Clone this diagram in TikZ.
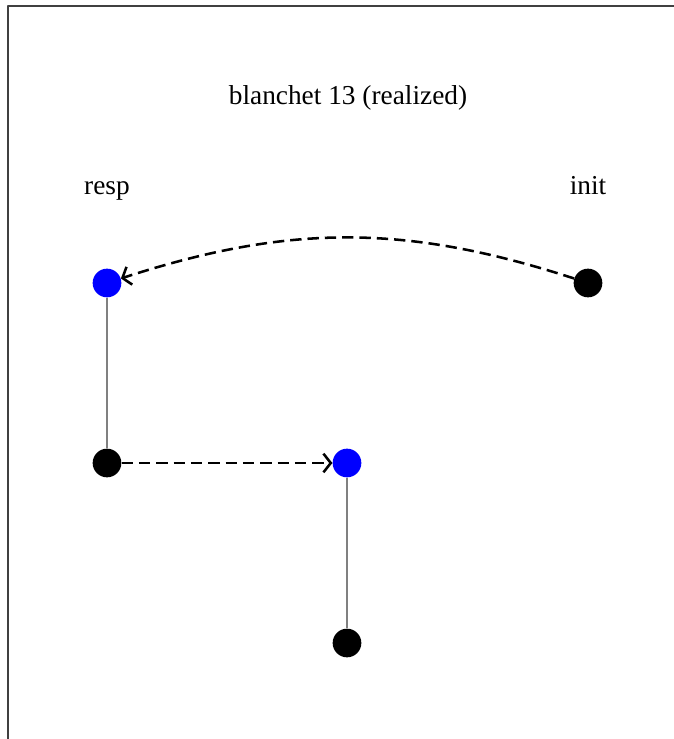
\documentclass[tikz,border=0pt]{standalone}
\usepackage{fontspec}
\setmainfont{Liberation Serif}
\usetikzlibrary{arrows.meta}
\tikzset{
	dotb/.style={circle, fill=blue, inner sep=0pt, minimum size=21.5pt},
	dotk/.style={circle, fill=black, inner sep=0pt, minimum size=21.5pt},
	msg/.style={line width=1.9pt, dash pattern=on 8.5pt off 4.5pt, -{Straight Barb[length=5.5pt,width=14pt,line width=1.9pt]}},
	life/.style={gray, line width=1.1pt},
	lbl/.style={anchor=base, font=\fontsize{20.5}{24}\selectfont}
}
\begin{document}
\begin{tikzpicture}[x=0.75pt, y=0.75pt, line join=round]
				\useasboundingbox (0,0) rectangle (674,-739);
				\draw[line width=1.5pt, black!75] (8,-739) -- (8,-6) -- (674,-6);
				\node[lbl] (title) at (348,-104) {blanchet 13 (realized)};
				\node[lbl] (lresp) at (107,-194) {resp};
				\node[lbl] (linit) at (588,-194) {init};
				\node[dotb] (r1) at (107,-283) {};
				\node[dotk] (r2) at (107,-463) {};
				\node[dotk] (i1) at (588,-283) {};
				\node[dotb] (m1) at (347,-463) {};
				\node[dotk] (m2) at (347,-643) {};
				\draw[life] (r1) -- (r2);
				\draw[life] (m1) -- (m2);
				\draw[msg] (i1) to[bend right=18] (r1);
				\draw[msg] (r2) -- (m1);
			\end{tikzpicture}
\end{document}
